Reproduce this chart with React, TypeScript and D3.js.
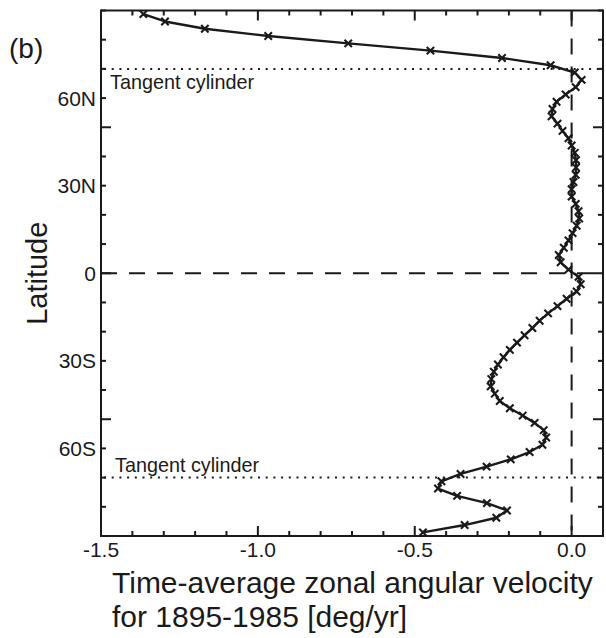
import React from 'react';
import * as d3 from 'd3';

const latitudes = [
  88.75, 86.25, 83.75, 81.25, 78.75, 76.25, 73.75, 71.25, 68.75, 66.25,
  63.75, 61.25, 58.75, 56.25, 53.75, 51.25, 48.75, 46.25, 43.75, 41.25,
  38.75, 36.25, 33.75, 31.25, 28.75, 26.25, 23.75, 21.25, 18.75, 16.25,
  13.75, 11.25, 8.75, 6.25, 3.75, 1.25, -1.25, -3.75, -6.25, -8.75,
  -11.25, -13.75, -16.25, -18.75, -21.25, -23.75, -26.25, -28.75, -31.25, -33.75,
  -36.25, -38.75, -41.25, -43.75, -46.25, -48.75, -51.25, -53.75, -56.25, -58.75,
  -61.25, -63.75, -66.25, -68.75, -71.25, -73.75, -76.25, -78.75, -81.25, -83.75,
  -86.25, -88.75,
];

const velocity = [
  -1.365, -1.296, -1.169, -0.967, -0.712, -0.45, -0.222, -0.067, 0.01, 0.032,
  0.013, -0.019, -0.048, -0.061, -0.064, -0.045, -0.029, -0.01, 0.0, 0.01,
  0.014, 0.014, 0.013, 0.006, 0.0, 0.0, 0.013, 0.022, 0.024, 0.016,
  0.003, -0.01, -0.025, -0.041, -0.035, -0.01, 0.022, 0.029, 0.016, -0.016,
  -0.045, -0.075, -0.102, -0.125, -0.15, -0.174, -0.197, -0.217, -0.235, -0.248,
  -0.256, -0.258, -0.245, -0.229, -0.197, -0.156, -0.118, -0.089, -0.081, -0.093,
  -0.134, -0.194, -0.271, -0.354, -0.415, -0.426, -0.365, -0.27, -0.206, -0.24,
  -0.341, -0.474,
];

const xTickValues = [-1.5, -1.0, -0.5, 0.0];
const xTickLabels = ['-1.5', '-1.0', '-0.5', '0.0'];
const yTickValues = [60, 30, 0, -30, -60];
const yTickLabels = ['60N', '30N', '0', '30S', '60S'];
const tangentLatitudes = [70, -70];
const tangentLabels = ['Tangent cylinder', 'Tangent cylinder'];
const xTitleLines = ['Time-average zonal angular velocity', 'for 1895-1985 [deg/yr]'];
const yTitle = 'Latitude';
const panelLabel = '(b)';

const FONT = '"Liberation Sans", Arial, Helvetica, sans-serif';
const INK = '#1a1a1a';

export default function App() {
  const left = 101, right = 603, top = 10.5, bottom = 536;
  const x = d3.scaleLinear().domain([-1.5, 0.1]).range([left, right]);
  const y = d3.scaleLinear().domain([-90, 90]).range([bottom, top]);

  const pts = latitudes.map((lat, i) => [velocity[i], lat] as [number, number]);
  const line = d3.line<[number, number]>().x(d => x(d[0])).y(d => y(d[1]));

  const xMinor = d3.range(-15, 2).map(v => v / 10);
  const yMinor = d3.range(-9, 10).map(v => v * 10);
  const isMajorX = (v: number) => Math.abs(Math.round(v * 10) % 5) === 0;
  const isMajorY = (v: number) => Math.abs(v) % 50 === 0;

  const m = 3.7;

  return (
    <svg width={606} height={638} style={{ position: 'absolute', left: 0, top: 0, background: '#fff' }}
      fontFamily={FONT}>
      <rect x={0} y={0} width={606} height={638} fill="#fff" />
      {/* reference lines */}
      <line x1={left} x2={right} y1={y(0)} y2={y(0)} stroke={INK} strokeWidth={2} strokeDasharray="16 12" />
      <line x1={x(0)} x2={x(0)} y1={top} y2={bottom} stroke={INK} strokeWidth={2} strokeDasharray="16 12" />
      {tangentLatitudes.map((lat, i) => (
        <line key={'t' + i} x1={left + 3} x2={right} y1={y(lat)} y2={y(lat)} stroke={INK}
          strokeWidth={2} strokeDasharray="2 5.7" />
      ))}
      <text x={110} y={y(tangentLatitudes[0]) + 20} fontSize={19.8} fill={INK}>{tangentLabels[0]}</text>
      <text x={115} y={y(tangentLatitudes[1]) - 6} fontSize={19.8} fill={INK}>{tangentLabels[1]}</text>

      {/* curve */}
      <path d={line(pts) || ''} fill="none" stroke={INK} strokeWidth={2.4} strokeLinejoin="round" />
      {pts.map((p, i) => {
        const cx = x(p[0]), cy = y(p[1]);
        return (
          <path key={'m' + i} d={`M${cx - m},${cy - m}L${cx + m},${cy + m}M${cx - m},${cy + m}L${cx + m},${cy - m}`}
            stroke={INK} strokeWidth={2.1} fill="none" />
        );
      })}

      {/* frame */}
      <rect x={left} y={top} width={right - left} height={bottom - top} fill="none" stroke={INK} strokeWidth={2} />
      {xMinor.map((v, i) => {
        const len = isMajorX(v) ? 10 : 5;
        const px = x(v);
        return (
          <g key={'xt' + i}>
            <line x1={px} x2={px} y1={top} y2={top + len} stroke={INK} strokeWidth={2} />
            <line x1={px} x2={px} y1={bottom} y2={bottom - len} stroke={INK} strokeWidth={2} />
          </g>
        );
      })}
      {yMinor.map((v, i) => {
        const len = isMajorY(v) ? 10 : 5;
        const py = y(v);
        return (
          <g key={'yt' + i}>
            <line x1={left} x2={left + len} y1={py} y2={py} stroke={INK} strokeWidth={2} />
            <line x1={right} x2={right - len} y1={py} y2={py} stroke={INK} strokeWidth={2} />
          </g>
        );
      })}

      {/* tick labels */}
      {xTickValues.map((v, i) => (
        <text key={'xl' + i} x={x(v)} y={bottom + 21} fontSize={21} textAnchor="middle" fill={INK}>{xTickLabels[i]}</text>
      ))}
      {yTickValues.map((v, i) => (
        <text key={'yl' + i} x={left - 5} y={y(v) + 7.5} fontSize={21} textAnchor="end" fill={INK}>{yTickLabels[i]}</text>
      ))}

      {/* titles */}
      <text x={112} y={593} fontSize={30} fill={INK}>{xTitleLines[0]}</text>
      <text x={112} y={627} fontSize={30} fill={INK}>{xTitleLines[1]}</text>
      <text transform={`translate(47,${y(0)}) rotate(-90)`} fontSize={29} textAnchor="middle" fill={INK}>{yTitle}</text>
      <text x={9} y={58} fontSize={28} fill={INK}>{panelLabel}</text>
    </svg>
  );
}
